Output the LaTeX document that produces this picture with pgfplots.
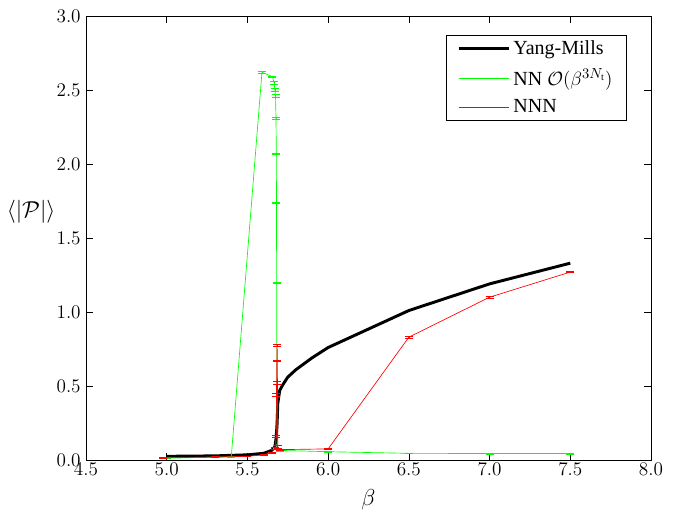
\documentclass[border=0pt]{standalone}
\usepackage{fontspec}
\setmainfont{Liberation Serif}
\usepackage{pgfplots}
\pgfplotsset{compat=1.18}
\begin{document}
\begin{tikzpicture}[x=1pt,y=1pt]
\begin{axis}[
  scale only axis,
  width=423.75pt, height=333pt,
  xmin=4.5, xmax=8.0, ymin=0, ymax=3.0,
  xtick={4.5,5.0,...,8.0},
  ytick={0,0.5,...,3.0},
  xticklabel style={/pgf/number format/fixed, /pgf/number format/fixed zerofill, /pgf/number format/precision=1, yshift=1pt},
  yticklabel style={/pgf/number format/fixed, /pgf/number format/fixed zerofill, /pgf/number format/precision=1, xshift=-0.5pt},
  tick align=inside,
  tick style={black, thin},
  major tick length=5pt,
  minor tick num=0,
  axis line style={black, line width=0.6pt},
  ticklabel style={font=\fontsize{14.5}{16}\selectfont},
  xlabel={$\beta$},
  ylabel={$\langle|\mathcal{P}|\rangle$},
  xlabel style={font=\fontsize{17}{19}\selectfont, at={(axis description cs:0.5,-0.055)}, anchor=north},
  ylabel style={font=\fontsize{17}{19}\selectfont, rotate=-90, at={(axis description cs:-0.097,0.559)}, anchor=center},
  legend style={at={(axis description cs:0.956,0.957)}, anchor=north east, draw=black, thin, font=\fontsize{15}{17}\selectfont, row sep=5pt, inner xsep=8pt, inner ysep=2pt},
  legend cell align=left,
  legend image code/.code={\draw[#1] (0pt,0pt) -- (38pt,0pt);},
  error bars/error mark options={rotate=90, mark size=3pt, line width=0.5pt},
]
\addlegendimage{black, line width=2.2pt}
\addlegendentry{Yang-Mills}
\addlegendimage{color=green, line width=0.6pt}
\addlegendentry{NN $\mathcal{O}(\beta^{3N_\mathrm{t}})$}
\addlegendimage{color=red, line width=0.6pt}
\addlegendentry{NNN}
\addplot[black, line width=2.2pt, line join=round, forget plot] coordinates {
(5.0,0.025) (5.3,0.028) (5.5,0.035) (5.6,0.045) (5.65,0.065) (5.67,0.09) (5.678,0.15) (5.684,0.25) (5.688,0.38) (5.693,0.42) (5.70,0.47) (5.72,0.51) (5.75,0.56) (5.80,0.61) (5.90,0.69) (6.0,0.76) (6.5,1.01) (7.0,1.19) (7.5,1.33)
};
\addplot[green, line width=0.5pt, forget plot, error bars/.cd, y dir=both, y explicit, error bar style={green, line width=0.5pt}] coordinates {
(5.0,0.012) +- (0,0.003)
(5.4,0.022) +- (0,0.003)
(5.59,2.62) +- (0,0.004)
(5.655,2.59) +- (0,0.005)
(5.665,2.55) +- (0,0.01)
(5.670,2.50) +- (0,0.01)
(5.674,2.46) +- (0,0.01)
(5.677,2.31) +- (0,0.005)
(5.679,2.07) +- (0,0.003)
(5.680,1.74) +- (0,0.003)
(5.681,1.20) +- (0,0.003)
(5.684,0.075) +- (0,0.006)
(5.70,0.065) +- (0,0.004)
(6.0,0.056) +- (0,0.004)
(6.5,0.045) +- (0,0.003)
(7.0,0.044) +- (0,0.003)
(7.5,0.044) +- (0,0.003)
};
\addplot[red, line width=0.5pt, forget plot, error bars/.cd, y dir=both, y explicit, error bar style={red, line width=0.5pt}] coordinates {
(4.98,0.015) +- (0,0.003)
(5.3,0.02) +- (0,0.003)
(5.5,0.025) +- (0,0.003)
(5.6,0.035) +- (0,0.003)
(5.65,0.05) +- (0,0.004)
(5.67,0.08) +- (0,0.005)
(5.678,0.16) +- (0,0.005)
(5.680,0.44) +- (0,0.01)
(5.682,0.67) +- (0,0.004)
(5.684,0.775) +- (0,0.006)
(5.686,0.52) +- (0,0.01)
(5.688,0.09) +- (0,0.01)
(5.70,0.07) +- (0,0.004)
(6.0,0.075) +- (0,0.003)
(6.5,0.83) +- (0,0.005)
(7.0,1.10) +- (0,0.005)
(7.5,1.27) +- (0,0.005)
};
\end{axis}
\useasboundingbox (-64.5pt,-39pt) rectangle (446.25pt,345pt);
\end{tikzpicture}
\end{document}
